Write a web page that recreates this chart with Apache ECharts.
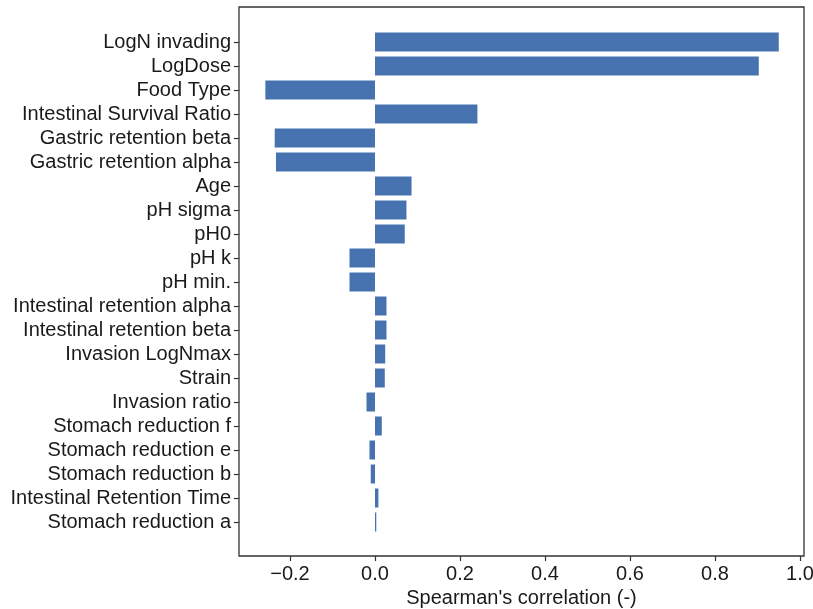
<!DOCTYPE html>
<html>
<head>
<meta charset="utf-8">
<script src="https://cdn.jsdelivr.net/npm/echarts@6/dist/echarts.min.js"></script>
<style>html,body{margin:0;padding:0;background:#fff;}#c{width:813px;height:609px;}</style>
</head>
<body>
<div id="c"></div>
<script>
const categories = [
  "LogN invading", "LogDose", "Food Type", "Intestinal Survival Ratio",
  "Gastric retention beta", "Gastric retention alpha", "Age", "pH sigma",
  "pH0", "pH k", "pH min.", "Intestinal retention alpha",
  "Intestinal retention beta", "Invasion LogNmax", "Strain", "Invasion ratio",
  "Stomach reduction f", "Stomach reduction e", "Stomach reduction b",
  "Intestinal Retention Time", "Stomach reduction a"
];
const values = [
  0.950, 0.903, -0.258, 0.241,
  -0.236, -0.233, 0.086, 0.074,
  0.070, -0.060, -0.060, 0.027,
  0.027, 0.024, 0.023, -0.020,
  0.016, -0.013, -0.010, 0.008, 0.003
];
const xTicks = { min: -0.2, max: 1.0, step: 0.2 };
const xTitle = "Spearman's correlation (-)";

const font = "'Liberation Sans', Arial, sans-serif";
const fs = 20;
const txt = '#1a1a1a';
const ax = '#333333';

const chart = echarts.init(document.getElementById('c'), null, { renderer: 'canvas' });
chart.setOption({
  animation: false,
  backgroundColor: '#ffffff',
  textStyle: { fontFamily: font },
  grid: [
    { left: 239, right: 9, top: 7, bottom: 53, containLabel: false, outerBoundsMode: 'none',
      show: true, borderColor: ax, borderWidth: 1.3, backgroundColor: 'transparent' },
    { left: 290, right: 13, top: 7, bottom: 53, containLabel: false, outerBoundsMode: 'none' },
    { left: 239, right: 9, top: 30, bottom: 75, containLabel: false, outerBoundsMode: 'none' }
  ],
  xAxis: [
    { gridIndex: 0, type: 'value', min: 0, max: 1,
      axisLine: { show: false }, axisTick: { show: false }, axisLabel: { show: false }, splitLine: { show: false },
      name: xTitle, nameLocation: 'middle', nameGap: 32,
      nameTextStyle: { color: txt, fontSize: fs, fontFamily: font } },
    { gridIndex: 1, type: 'value', min: xTicks.min, max: xTicks.max, interval: xTicks.step,
      axisLine: { show: false }, splitLine: { show: false },
      axisTick: { show: true, length: 5, lineStyle: { color: ax, width: 1.2 } },
      axisLabel: { color: txt, fontSize: fs, fontFamily: font, margin: 8,
        formatter: v => (v < 0 ? '\u2212' : '') + Math.abs(v).toFixed(1) } },
    { gridIndex: 2, type: 'value', min: -0.32, max: 1.0094, show: false }
  ],
  yAxis: [
    { gridIndex: 0, type: 'value', min: 0, max: 1, show: false },
    { gridIndex: 1, type: 'value', min: 0, max: 1, show: false },
    { gridIndex: 2, type: 'category', data: categories, inverse: true,
      axisLine: { show: false, onZero: false },
      axisTick: { show: true, alignWithLabel: true, length: 5, lineStyle: { color: ax, width: 1.2 } },
      axisLabel: { color: txt, fontSize: fs, fontFamily: font, margin: 8, interval: 0 } }
  ],
  series: [{
    type: 'bar',
    xAxisIndex: 2, yAxisIndex: 2,
    data: values,
    barWidth: 19,
    itemStyle: { color: '#4673b0' }
  }]
});
</script>
</body>
</html>
